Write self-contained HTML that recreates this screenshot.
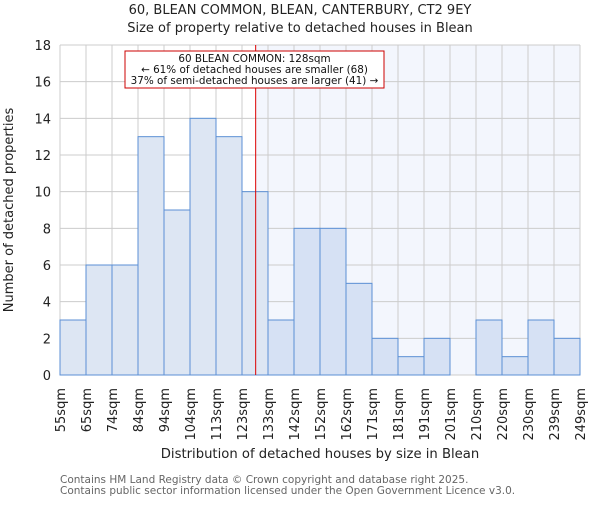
<!DOCTYPE html>
<html><head><meta charset="utf-8"><style>
body{margin:0;background:#fff;}
svg text{font-family:"DejaVu Sans","Liberation Sans",sans-serif;}
</style></head><body>
<svg id="chart" width="600" height="500" xmlns="http://www.w3.org/2000/svg">
<text x="300" y="14" text-anchor="middle" font-size="13" fill="#222">60, BLEAN COMMON, BLEAN, CANTERBURY, CT2 9EY</text>
<text x="300" y="32" text-anchor="middle" font-size="13" fill="#222">Size of property relative to detached houses in Blean</text>
<g id="plot"></g>
<text x="320" y="458" text-anchor="middle" font-size="13.2" fill="#222">Distribution of detached houses by size in Blean</text>
<text transform="translate(13,210) rotate(-90)" text-anchor="middle" font-size="13" fill="#222">Number of detached properties</text>
<text x="60" y="483" font-size="10.5" fill="#666">Contains HM Land Registry data © Crown copyright and database right 2025.</text>
<text x="60" y="494" font-size="10.5" fill="#666">Contains public sector information licensed under the Open Government Licence v3.0.</text>
</svg>
<script>
const binLabels=["55sqm","65sqm","74sqm","84sqm","94sqm","104sqm","113sqm","123sqm","133sqm","142sqm","152sqm","162sqm","171sqm","181sqm","191sqm","201sqm","210sqm","220sqm","230sqm","239sqm","249sqm"];
const counts=[3,6,6,13,9,14,13,10,3,8,8,5,2,1,2,0,3,1,3,2];
const yTicks=[0,2,4,6,8,10,12,14,16,18];
const subjectSize=128;
const xMinVal=55, xMaxVal=249;
const L=60,R=580,T=45,B=375,yMax=18;
const NS="http://www.w3.org/2000/svg";
const g=document.getElementById('plot');
const bw=(R-L)/counts.length;
const xi=i=>L+i*bw;
const xv=v=>L+(v-xMinVal)/(xMaxVal-xMinVal)*(R-L);
const y=v=>B-v/yMax*(B-T);
function mk(t,a){const e=document.createElementNS(NS,t);for(const k in a)e.setAttribute(k,a[k]);g.appendChild(e);return e;}
const sx=xv(subjectSize);
let e=mk('rect',{x:sx,y:T,width:R-sx,height:B-T,fill:'#f3f6fd'});


for(let i=0;i<=counts.length;i++){e=mk('line',{x1:xi(i),x2:xi(i),y1:T,y2:B,stroke:'#ccc','stroke-width':1});

}
yTicks.forEach(t=>{e=mk('line',{x1:L,x2:R,y1:y(t),y2:y(t),stroke:'#ccc','stroke-width':1});


e=mk('text',{x:L-9,y:y(t)+5,'text-anchor':'end','font-size':13,fill:'#222'});e.textContent=t;

});
counts.forEach((c,i)=>{e=mk('rect',{x:xi(i),y:y(c),width:bw,height:B-y(c),fill:xi(i)>=sx?'#d6e1f4':'#dde6f3',stroke:'#5b8fd4','stroke-width':1});

});
binLabels.forEach((l,i)=>{e=mk('text',{transform:`translate(${xi(i)+5},388) rotate(-90)`,'text-anchor':'end','font-size':13,fill:'#222'});e.textContent=l;

});
e=mk('line',{x1:sx,x2:sx,y1:T,y2:B,stroke:'#d00','stroke-width':1});


e=mk('rect',{x:125,y:51,width:259,height:37,fill:'#fff',stroke:'#c00','stroke-width':1});


["60 BLEAN COMMON: 128sqm","← 61% of detached houses are smaller (68)","37% of semi-detached houses are larger (41) →"].forEach((s,k)=>{e=mk('text',{x:254.5,y:62+k*11,'text-anchor':'middle','font-size':10.4,fill:'#111'});e.textContent=s;

});
</script>
</body></html>
